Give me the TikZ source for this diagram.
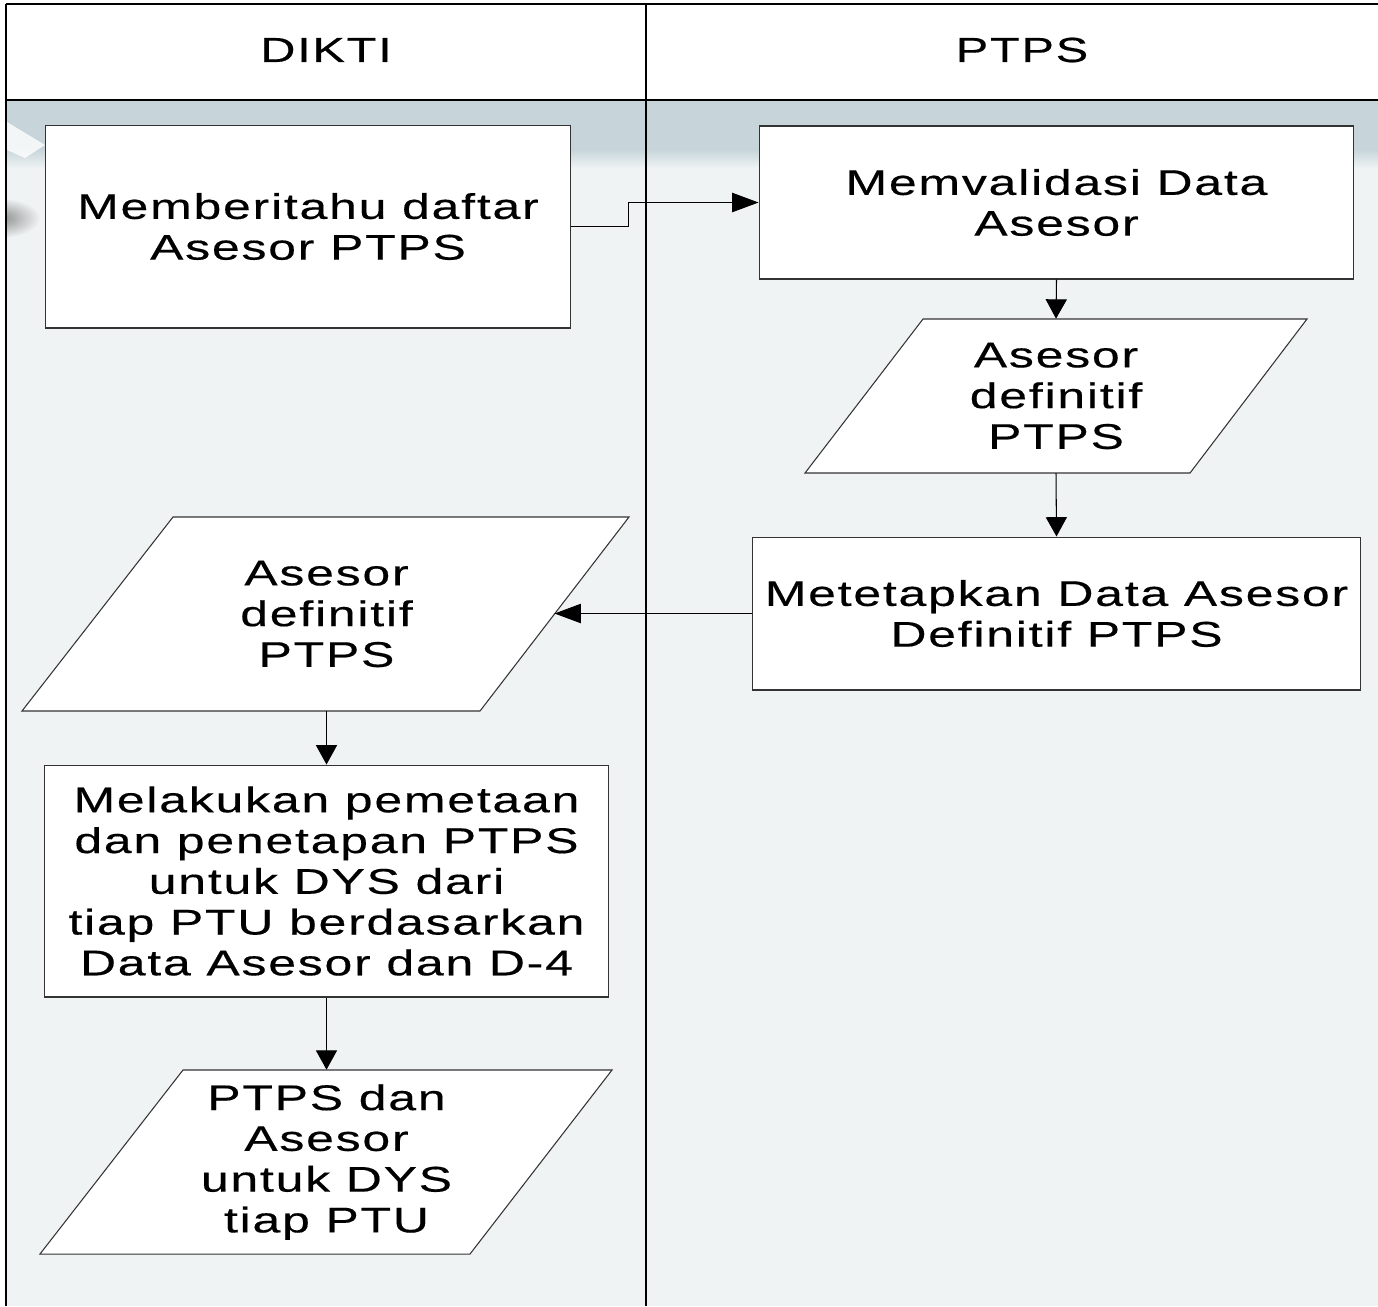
\documentclass[tikz,border=0pt]{standalone}
\usepackage{fontspec}
\setmainfont{Liberation Sans}
\newfontfamily\bodyfont[FakeStretch=1.4,LetterSpace=5,FakeBold=0.4]{Liberation Sans}
\usetikzlibrary{arrows.meta,calc}
\definecolor{lanebg}{RGB}{239,243,244}
\definecolor{bandtop}{RGB}{199,213,218}
\lineskiplimit=-30pt
\begin{document}
\begin{tikzpicture}[x=0.02cm,y=-0.02cm,
  lane/.style={line width=1pt,draw=black},
  procbox/.style={draw=black!80,line width=0.6pt,fill=white,inner sep=0pt,align=center,
     font=\bodyfont\fontsize{20.3}{23.2}\selectfont},
  paratext/.style={draw=none,inner sep=0pt,align=center,
     font=\bodyfont\fontsize{20.3}{23.2}\selectfont},
  parashape/.style={draw=black!80,line width=0.6pt,fill=white},
  lanetitle/.style={font=\bodyfont\fontsize{19.8}{23}\selectfont,inner sep=0pt},
  harr/.style={line width=0.6pt,-{Triangle[length=15pt,width=11pt]}},
  varr/.style={line width=0.6pt,-{Triangle[length=11pt,width=12pt]}}]
\useasboundingbox (0,0) rectangle (1378,1306);
% background
\fill[white] (0,0) rectangle (1378,1306);
\fill[lanebg] (6,100) rectangle (1378,1306);
\fill[bandtop] (6,100) rectangle (1378,150);
\shade[top color=bandtop,bottom color=lanebg] (6,149.5) rectangle (1378,168);
\begin{scope}
  \clip (7,100) rectangle (60,300);
  \shade[inner color=black!45,outer color=lanebg] (0,218) ellipse [x radius=40,y radius=20];
  \fill[white,opacity=0.8] (7,122) -- (45,145) -- (25,158) -- (7,150) -- cycle;
\end{scope}
% lanes
\draw[lane] (6,4) -- (1378,4);
\draw[lane] (6,100) -- (1378,100);
\draw[lane] (6,4) -- (6,1306);
\draw[lane] (646,4) -- (646,1306);
\node[lanetitle] (hdikti) at (326,50) {DIKTI};
\node[lanetitle] (hptps) at (1022,50) {PTPS};
% boxes
\node[procbox,minimum width=10.52cm,minimum height=4.06cm] (b1) at (308,226.5)
  {Memberitahu daftar\\Asesor PTPS};
\node[procbox,minimum width=11.9cm,minimum height=3.06cm] (b2) at (1056.5,202.5)
  {Memvalidasi Data\\Asesor};
\node[procbox,minimum width=12.18cm,minimum height=3.06cm] (b4) at (1056.5,613.5)
  {Metetapkan Data Asesor\\Definitif PTPS};
\node[procbox,minimum width=11.3cm,minimum height=4.64cm] (b6) at (326.5,881)
  {Melakukan pemetaan\\dan penetapan PTPS\\untuk DYS dari\\ tiap PTU berdasarkan\\Data Asesor dan D-4};
% parallelograms
\coordinate (p3tl) at (923,319); \coordinate (p3tr) at (1307,319);
\coordinate (p3br) at (1190,473); \coordinate (p3bl) at (805,473);
\draw[parashape] (p3tl) -- (p3tr) -- (p3br) -- (p3bl) -- cycle;
\node[paratext,minimum width=10.04cm,minimum height=3.08cm] (p3) at (1056,396)
  {Asesor\\definitif\\PTPS};
\coordinate (p5tl) at (173,517); \coordinate (p5tr) at (629,517);
\coordinate (p5br) at (480,711); \coordinate (p5bl) at (22,711);
\draw[parashape] (p5tl) -- (p5tr) -- (p5br) -- (p5bl) -- cycle;
\node[paratext,minimum width=12.14cm,minimum height=3.88cm] (p5) at (326.5,614)
  {Asesor\\definitif\\PTPS};
\coordinate (p5e) at ($(p5tr)!0.5!(p5br)$);
\coordinate (p7tl) at (183,1070); \coordinate (p7tr) at (612,1070);
\coordinate (p7br) at (470,1254); \coordinate (p7bl) at (40,1254);
\draw[parashape] (p7tl) -- (p7tr) -- (p7br) -- (p7bl) -- cycle;
\node[paratext,minimum width=11.44cm,minimum height=3.68cm] (p7) at (326.5,1162)
  {PTPS dan\\Asesor\\untuk DYS\\tiap PTU};
% connectors
\draw[harr] (b1.east) -- ++(57,0) |- (b2.west);
\draw[varr] (b2.south) -- (p3.north);
\draw[varr] (p3.south) -- (b4.north);
\draw[harr] (b4.west) -- (b4.west -| p5e);
\draw[varr] (p5.south) -- (b6.north);
\draw[varr] (b6.south) -- (p7.north);
\end{tikzpicture}
\end{document}
